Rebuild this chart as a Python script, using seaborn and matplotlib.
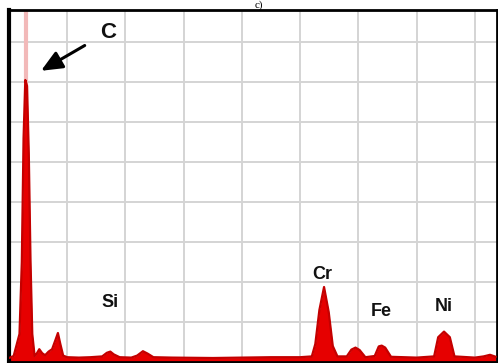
import matplotlib
matplotlib.use("Agg")
import matplotlib.pyplot as plt
import seaborn as sns
import pandas as pd

# Spectrum (energy in keV, counts)
energy = [0.00, 0.08, 0.18, 0.22, 0.25, 0.28, 0.31, 0.34, 0.37, 0.40, 0.44, 0.48, 0.52, 0.57,
          0.62, 0.68, 0.74, 0.80, 0.84, 0.88, 0.93, 1.00, 1.20, 1.40, 1.60, 1.68, 1.74,
          1.80, 1.90, 2.10, 2.20, 2.30, 2.38, 2.48, 2.80, 3.50, 4.00, 4.50, 5.00, 5.20,
          5.26, 5.33, 5.41, 5.49, 5.56, 5.64, 5.80, 5.88, 5.95, 6.02, 6.12, 6.28, 6.35,
          6.40, 6.46, 6.56, 7.00, 7.30, 7.37, 7.47, 7.57, 7.65, 8.00, 8.15, 8.26, 8.36]
counts = [100, 150, 700, 2500, 5600, 7050, 6900, 5200, 2500, 700, 150, 220, 320, 220,
          170, 260, 320, 560, 725, 460, 160, 120, 110, 120, 140, 230, 260,
          190, 120, 110, 160, 270, 210, 120, 110, 100, 110, 120, 120, 140,
          450, 1300, 1875, 1250, 400, 140, 140, 310, 360, 300, 120, 150, 390,
          410, 360, 130, 110, 140, 620, 760, 620, 140, 110, 140, 180, 130]

element_labels = ["Si", "Cr", "Fe", "Ni"]
label_x = [1.74, 5.38, 6.40, 7.46]
label_y = [1480, 2180, 1250, 1380]

df = pd.DataFrame({"energy": energy, "counts": counts})

sns.set_style("white")
fig = plt.figure(figsize=(4.98, 3.63), dpi=100)
ax = fig.add_axes([9 / 498, 1 / 363, 488 / 498, 352 / 363])

ax.set_xlim(0, 8.38)
ax.set_ylim(0, 8800)
ax.set_xticks([1, 2, 3, 4, 5, 6, 7, 8])
ax.set_yticks([1000, 2000, 3000, 4000, 5000, 6000, 7000, 8000])
ax.grid(True, color="#d4d4d4", linewidth=1.4)
ax.set_axisbelow(True)
ax.tick_params(left=False, bottom=False, labelleft=False, labelbottom=False)
for s in ax.spines.values():
    s.set_color("black")
    s.set_linewidth(2)
ax.spines["left"].set_linewidth(3)

# faint marker line over the C peak
ax.axvline(0.29, color="#f2b9b9", linewidth=3, zorder=1)

ax.fill_between(df["energy"], 0, df["counts"], color="#e60000", zorder=2, linewidth=0)
sns.lineplot(data=df, x="energy", y="counts", ax=ax, color="#c40000",
             linewidth=1.6, zorder=3)
ax.set_xlabel("")
ax.set_ylabel("")

for lab, x, y in zip(element_labels, label_x, label_y):
    ax.text(x, y, lab, ha="center", va="center", fontsize=13, fontweight="bold",
            family="Liberation Sans", color="#111111")

ax.annotate("C", xy=(0.55, 7280), xytext=(1.7, 8250), ha="center", va="center",
            fontsize=16, fontweight="bold", family="Liberation Sans", color="#111111",
            arrowprops=dict(arrowstyle="-|>,head_length=0.8,head_width=0.35",
                            color="black", lw=2.2, shrinkA=10, shrinkB=0))

fig.text(0.52, 1.0, "c)", ha="center", va="top", fontsize=8,
         family="Liberation Serif", color="black")

fig.savefig("out.png", dpi=100)
